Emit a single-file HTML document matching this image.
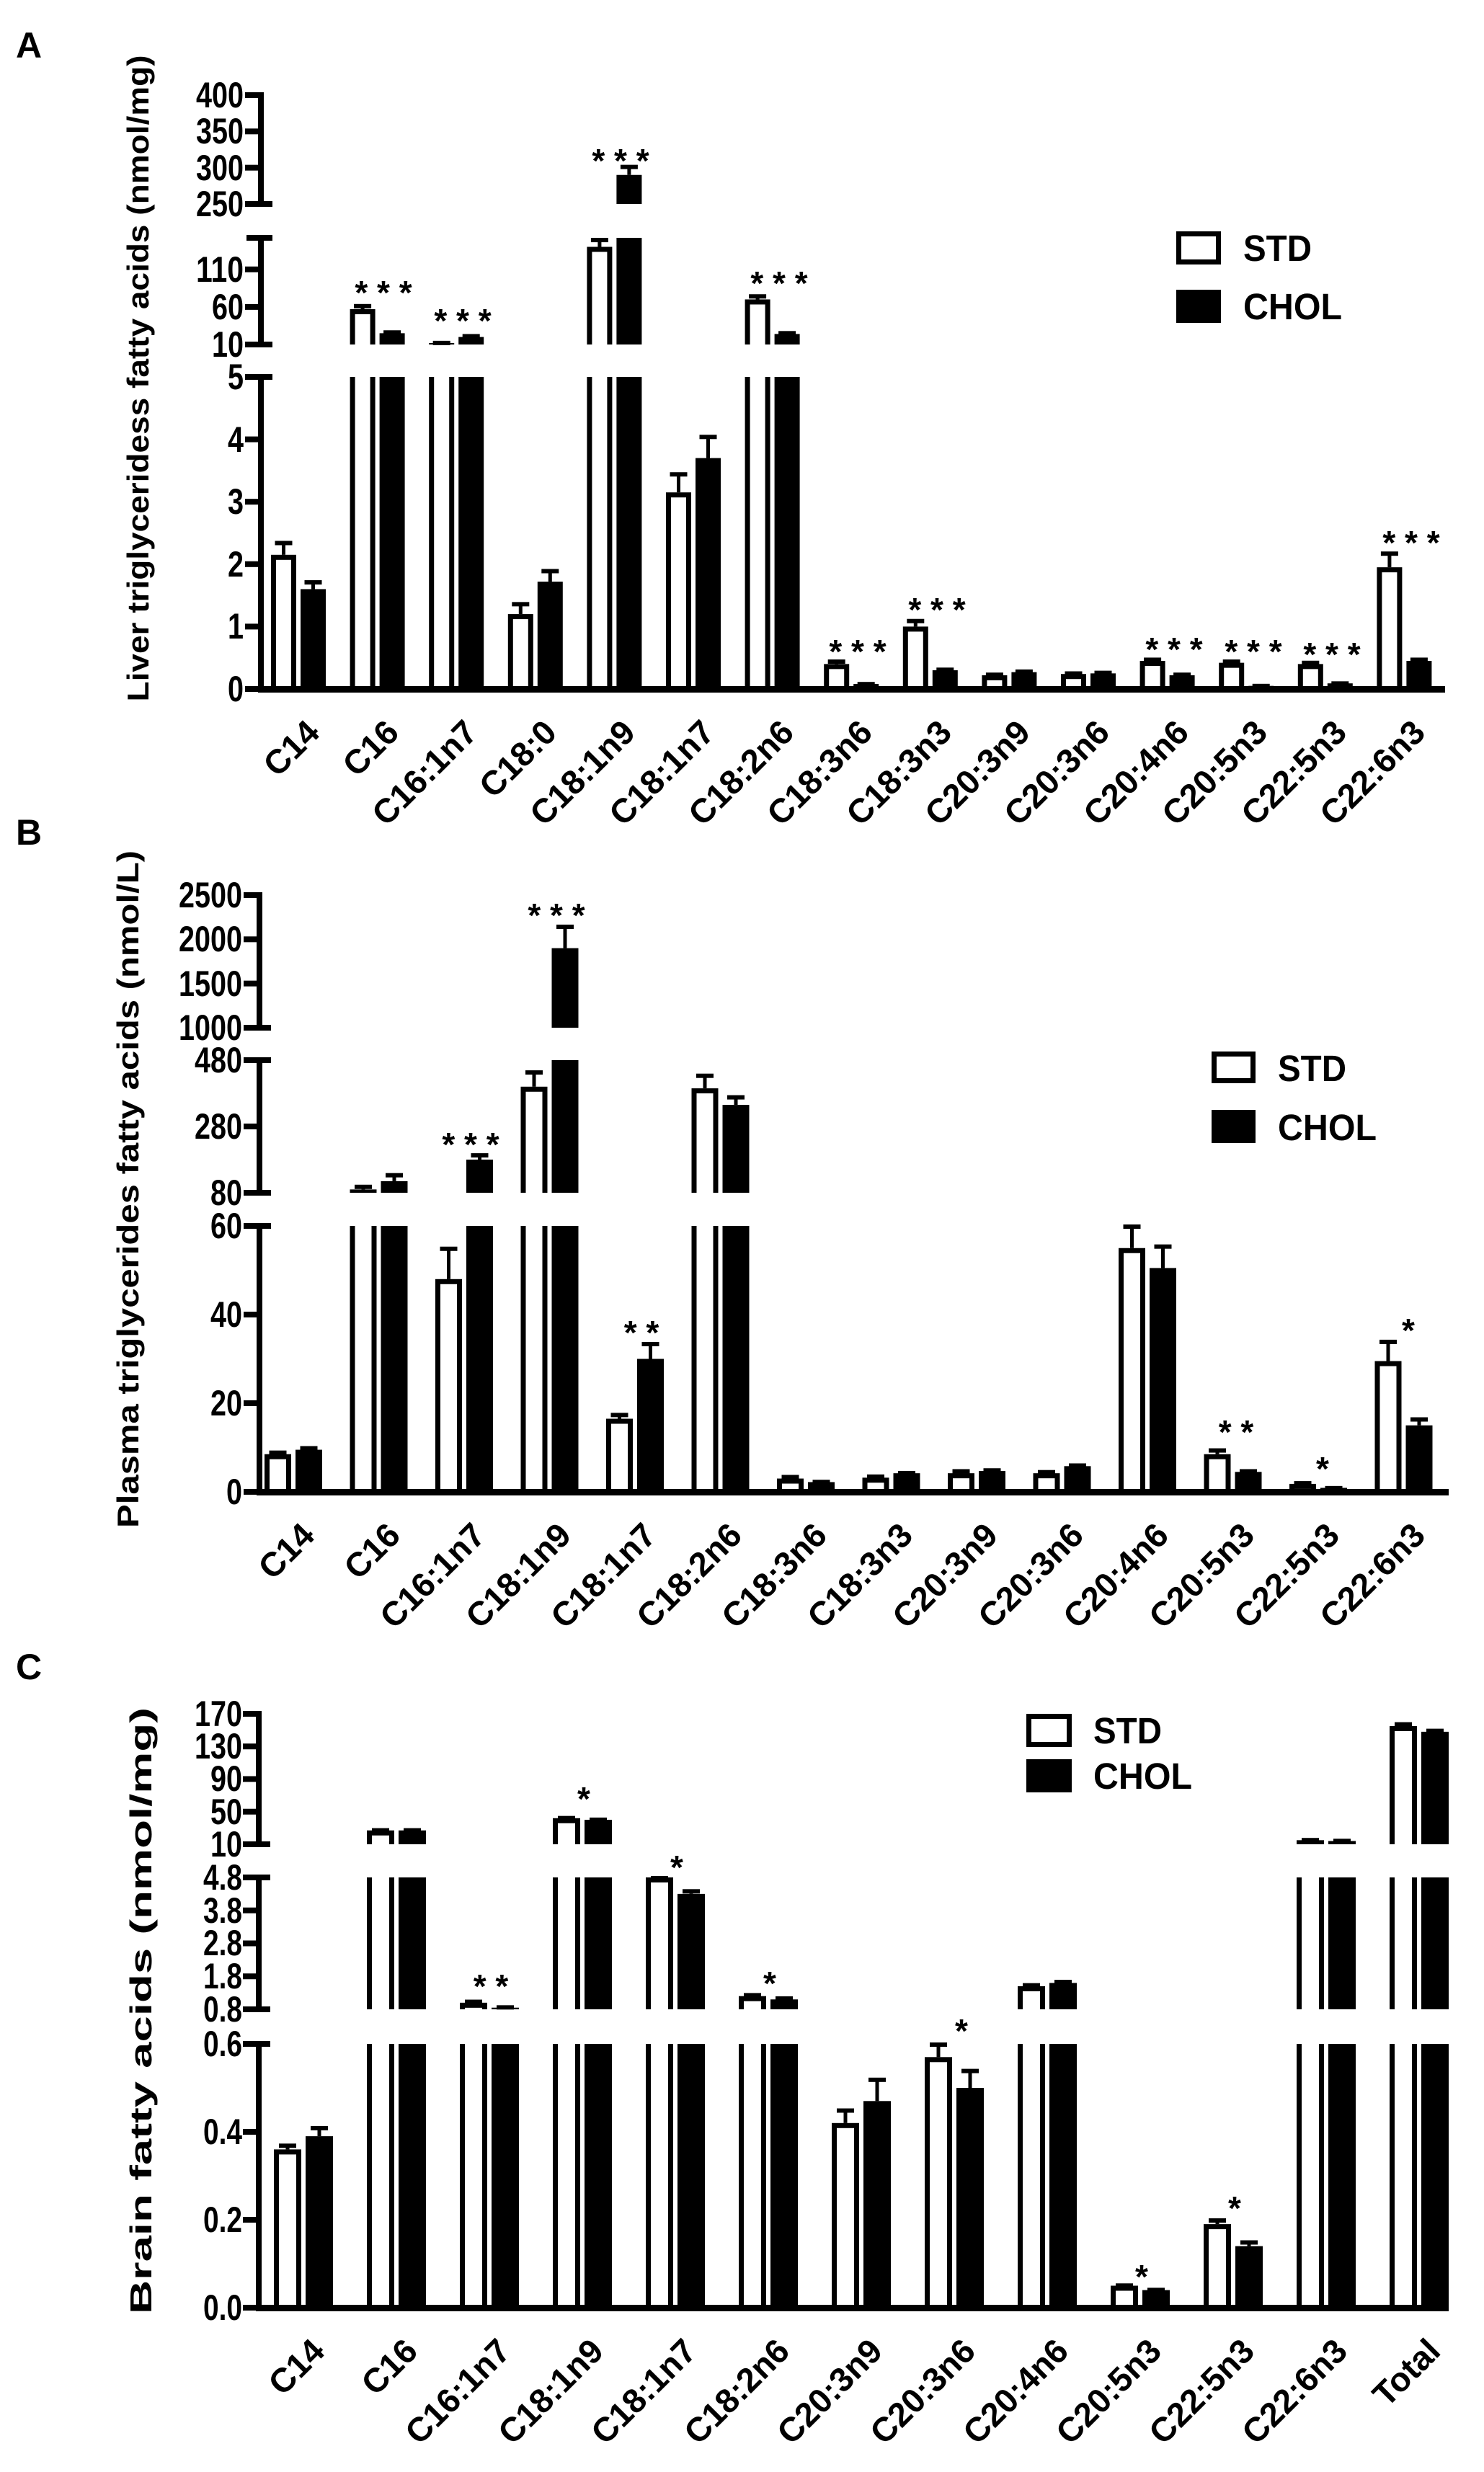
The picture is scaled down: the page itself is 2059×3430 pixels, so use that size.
<!DOCTYPE html>
<html><head><meta charset="utf-8"><style>
html,body{margin:0;padding:0;background:#fff;}
svg{display:block;}
text{font-family:"Liberation Sans",Arial,sans-serif;font-weight:bold;fill:#000;}
.tk{font-size:50px;text-anchor:end;}
.xl{font-size:47px;text-anchor:end;}
.st{font-size:46px;text-anchor:middle;}
.lg{font-size:51px;}
.yl{font-size:42px;text-anchor:middle;}
.pl{font-size:50px;}
</style></head><body>
<svg id="s" width="2059" height="3430" viewBox="0 0 2059 3430" xmlns="http://www.w3.org/2000/svg">
<rect width="2059" height="3430" fill="#fff"/>
<g id="g"></g>
<text class="pl" x="22" y="80">A</text>
<text class="pl" x="22" y="1172">B</text>
<text class="pl" x="22" y="2330">C</text>
<text class="yl" transform="translate(206,525) rotate(-90)" textLength="897" lengthAdjust="spacingAndGlyphs">Liver triglyceridess fatty acids (nmol/mg)</text>
<text class="yl" transform="translate(192,1650) rotate(-90)" textLength="940" lengthAdjust="spacingAndGlyphs">Plasma triglycerides fatty acids (nmol/L)</text>
<text class="yl" transform="translate(210,2790) rotate(-90)" textLength="842" lengthAdjust="spacingAndGlyphs">Brain fatty acids (nmol/mg)</text>
<text class="lg" x="1725" y="362" textLength="95" lengthAdjust="spacingAndGlyphs">STD</text>
<text class="lg" x="1725" y="443" textLength="137" lengthAdjust="spacingAndGlyphs">CHOL</text>
<text class="lg" x="1773" y="1500" textLength="95" lengthAdjust="spacingAndGlyphs">STD</text>
<text class="lg" x="1773" y="1582" textLength="137" lengthAdjust="spacingAndGlyphs">CHOL</text>
<text class="lg" x="1517" y="2419" textLength="95" lengthAdjust="spacingAndGlyphs">STD</text>
<text class="lg" x="1517" y="2482" textLength="137" lengthAdjust="spacingAndGlyphs">CHOL</text>
<text class="tk" x="338" y="973" textLength="22" lengthAdjust="spacingAndGlyphs">0</text>
<text class="tk" x="338" y="886" textLength="22" lengthAdjust="spacingAndGlyphs">1</text>
<text class="tk" x="338" y="800" textLength="22" lengthAdjust="spacingAndGlyphs">2</text>
<text class="tk" x="338" y="713" textLength="22" lengthAdjust="spacingAndGlyphs">3</text>
<text class="tk" x="338" y="627" textLength="22" lengthAdjust="spacingAndGlyphs">4</text>
<text class="tk" x="338" y="540" textLength="22" lengthAdjust="spacingAndGlyphs">5</text>
<text class="tk" x="338" y="495" textLength="44" lengthAdjust="spacingAndGlyphs">10</text>
<text class="tk" x="338" y="443" textLength="44" lengthAdjust="spacingAndGlyphs">60</text>
<text class="tk" x="338" y="391" textLength="66" lengthAdjust="spacingAndGlyphs">110</text>
<text class="tk" x="338" y="300" textLength="66" lengthAdjust="spacingAndGlyphs">250</text>
<text class="tk" x="338" y="250" textLength="66" lengthAdjust="spacingAndGlyphs">300</text>
<text class="tk" x="338" y="199" textLength="66" lengthAdjust="spacingAndGlyphs">350</text>
<text class="tk" x="338" y="149" textLength="66" lengthAdjust="spacingAndGlyphs">400</text>
<text class="tk" x="336" y="2087" textLength="22" lengthAdjust="spacingAndGlyphs">0</text>
<text class="tk" x="336" y="1964" textLength="44" lengthAdjust="spacingAndGlyphs">20</text>
<text class="tk" x="336" y="1841" textLength="44" lengthAdjust="spacingAndGlyphs">40</text>
<text class="tk" x="336" y="1718" textLength="44" lengthAdjust="spacingAndGlyphs">60</text>
<text class="tk" x="336" y="1672" textLength="44" lengthAdjust="spacingAndGlyphs">80</text>
<text class="tk" x="336" y="1580" textLength="66" lengthAdjust="spacingAndGlyphs">280</text>
<text class="tk" x="336" y="1488" textLength="66" lengthAdjust="spacingAndGlyphs">480</text>
<text class="tk" x="336" y="1443" textLength="88" lengthAdjust="spacingAndGlyphs">1000</text>
<text class="tk" x="336" y="1382" textLength="88" lengthAdjust="spacingAndGlyphs">1500</text>
<text class="tk" x="336" y="1320" textLength="88" lengthAdjust="spacingAndGlyphs">2000</text>
<text class="tk" x="336" y="1259" textLength="88" lengthAdjust="spacingAndGlyphs">2500</text>
<text class="tk" x="336" y="3219" textLength="54" lengthAdjust="spacingAndGlyphs">0.0</text>
<text class="tk" x="336" y="3097" textLength="54" lengthAdjust="spacingAndGlyphs">0.2</text>
<text class="tk" x="336" y="2975" textLength="54" lengthAdjust="spacingAndGlyphs">0.4</text>
<text class="tk" x="336" y="2853" textLength="54" lengthAdjust="spacingAndGlyphs">0.6</text>
<text class="tk" x="336" y="2805" textLength="54" lengthAdjust="spacingAndGlyphs">0.8</text>
<text class="tk" x="336" y="2759" textLength="54" lengthAdjust="spacingAndGlyphs">1.8</text>
<text class="tk" x="336" y="2713" textLength="54" lengthAdjust="spacingAndGlyphs">2.8</text>
<text class="tk" x="336" y="2668" textLength="54" lengthAdjust="spacingAndGlyphs">3.8</text>
<text class="tk" x="336" y="2622" textLength="54" lengthAdjust="spacingAndGlyphs">4.8</text>
<text class="tk" x="336" y="2576" textLength="44" lengthAdjust="spacingAndGlyphs">10</text>
<text class="tk" x="336" y="2531" textLength="44" lengthAdjust="spacingAndGlyphs">50</text>
<text class="tk" x="336" y="2485" textLength="44" lengthAdjust="spacingAndGlyphs">90</text>
<text class="tk" x="336" y="2440" textLength="66" lengthAdjust="spacingAndGlyphs">130</text>
<text class="tk" x="336" y="2395" textLength="66" lengthAdjust="spacingAndGlyphs">170</text>
<text class="xl" transform="translate(446,1019) rotate(-45)">C14</text>
<text class="xl" transform="translate(556,1019) rotate(-45)">C16</text>
<text class="xl" transform="translate(665,1019) rotate(-45)">C16:1n7</text>
<text class="xl" transform="translate(775,1019) rotate(-45)">C18:0</text>
<text class="xl" transform="translate(884,1019) rotate(-45)">C18:1n9</text>
<text class="xl" transform="translate(994,1019) rotate(-45)">C18:1n7</text>
<text class="xl" transform="translate(1104,1019) rotate(-45)">C18:2n6</text>
<text class="xl" transform="translate(1213,1019) rotate(-45)">C18:3n6</text>
<text class="xl" transform="translate(1323,1019) rotate(-45)">C18:3n3</text>
<text class="xl" transform="translate(1432,1019) rotate(-45)">C20:3n9</text>
<text class="xl" transform="translate(1542,1019) rotate(-45)">C20:3n6</text>
<text class="xl" transform="translate(1652,1019) rotate(-45)">C20:4n6</text>
<text class="xl" transform="translate(1761,1019) rotate(-45)">C20:5n3</text>
<text class="xl" transform="translate(1871,1019) rotate(-45)">C22:5n3</text>
<text class="xl" transform="translate(1980,1019) rotate(-45)">C22:6n3</text>
<text class="xl" transform="translate(439,2133) rotate(-45)">C14</text>
<text class="xl" transform="translate(558,2133) rotate(-45)">C16</text>
<text class="xl" transform="translate(676,2133) rotate(-45)">C16:1n7</text>
<text class="xl" transform="translate(795,2133) rotate(-45)">C18:1n9</text>
<text class="xl" transform="translate(913,2133) rotate(-45)">C18:1n7</text>
<text class="xl" transform="translate(1032,2133) rotate(-45)">C18:2n6</text>
<text class="xl" transform="translate(1150,2133) rotate(-45)">C18:3n6</text>
<text class="xl" transform="translate(1269,2133) rotate(-45)">C18:3n3</text>
<text class="xl" transform="translate(1387,2133) rotate(-45)">C20:3n9</text>
<text class="xl" transform="translate(1506,2133) rotate(-45)">C20:3n6</text>
<text class="xl" transform="translate(1624,2133) rotate(-45)">C20:4n6</text>
<text class="xl" transform="translate(1743,2133) rotate(-45)">C20:5n3</text>
<text class="xl" transform="translate(1861,2133) rotate(-45)">C22:5n3</text>
<text class="xl" transform="translate(1980,2133) rotate(-45)">C22:6n3</text>
<text class="xl" transform="translate(453,3265) rotate(-45)">C14</text>
<text class="xl" transform="translate(582,3265) rotate(-45)">C16</text>
<text class="xl" transform="translate(711,3265) rotate(-45)">C16:1n7</text>
<text class="xl" transform="translate(840,3265) rotate(-45)">C18:1n9</text>
<text class="xl" transform="translate(969,3265) rotate(-45)">C18:1n7</text>
<text class="xl" transform="translate(1098,3265) rotate(-45)">C18:2n6</text>
<text class="xl" transform="translate(1227,3265) rotate(-45)">C20:3n9</text>
<text class="xl" transform="translate(1356,3265) rotate(-45)">C20:3n6</text>
<text class="xl" transform="translate(1485,3265) rotate(-45)">C20:4n6</text>
<text class="xl" transform="translate(1614,3265) rotate(-45)">C20:5n3</text>
<text class="xl" transform="translate(1743,3265) rotate(-45)">C22:5n3</text>
<text class="xl" transform="translate(1872,3265) rotate(-45)">C22:6n3</text>
<text class="xl" transform="translate(2001,3265) rotate(-45)">Total</text>
<text class="st" x="532" y="422">* * *</text>
<text class="st" x="642" y="461">* * *</text>
<text class="st" x="861" y="239">* * *</text>
<text class="st" x="1081" y="409">* * *</text>
<text class="st" x="1190" y="920">* * *</text>
<text class="st" x="1300" y="862">* * *</text>
<text class="st" x="1629" y="917">* * *</text>
<text class="st" x="1739" y="920">* * *</text>
<text class="st" x="1848" y="924">* * *</text>
<text class="st" x="1958" y="769">* * *</text>
<text class="st" x="653" y="1604">* * *</text>
<text class="st" x="772" y="1286">* * *</text>
<text class="st" x="890" y="1865">* *</text>
<text class="st" x="1715" y="2003">* *</text>
<text class="st" x="1835" y="2054">*</text>
<text class="st" x="1954" y="1862">*</text>
<text class="st" x="681" y="2772">* *</text>
<text class="st" x="810" y="2512">*</text>
<text class="st" x="939" y="2607">*</text>
<text class="st" x="1068" y="2768">*</text>
<text class="st" x="1334" y="2834">*</text>
<text class="st" x="1584" y="3175">*</text>
<text class="st" x="1713" y="3080">*</text>
</svg>
<script>
(function(){
var NS="http://www.w3.org/2000/svg",g=document.getElementById("g");
function el(t,a){var e=document.createElementNS(NS,t);for(var k in a)e.setAttribute(k,a[k]);g.appendChild(e);return e;}
function R(x,y,w,h,f){el("rect",{x:x,y:y,width:w,height:h,fill:f});}
function panel(P){
  var segs=P.segs;
  function ymap(s,v){return s.y0+(v-s.v0)*(s.y1-s.y0)/(s.v1-s.v0);}
  function segOf(v){for(var i=segs.length-1;i>=0;i--){if(v>=segs[i].v0)return i;}return 0;}
  for(var i=0;i<P.d.length;i++){
    var c=P.c0+P.p*i,d=P.d[i];
    for(var b=0;b<2;b++){
      var v=d[b*2],e=d[b*2+1],x=b==0?c-P.bw-3:c+3,w=P.bw;
      var top=segOf(v);
      for(var k=0;k<=top;k++){
        var s=segs[k],ytop=k<top?s.y1:ymap(s,v),ybot=s.y0;
        R(x,ytop,w,ybot-ytop,"#000");
        if(b==0){
          var inset=7,it=k<top?ytop:ytop+inset;
          if(ybot-it>0&&w-2*inset>0)R(x+inset,it,w-2*inset,ybot-it,"#fff");
        }
      }
      var s=segs[top],ye=ymap(s,Math.min(e,s.v1)),yv=ymap(s,v);
      if(yv-ye>1){R(c+(b==0?-P.bw/2-3:P.bw/2+3)-2.5,ye,5,yv-ye,"#000");}
      R(c+(b==0?-P.bw/2-3:P.bw/2+3)-12,ye-2,24,6,"#000");
    }
  }
  for(var k=0;k<segs.length;k++){
    var s=segs[k];
    R(P.ax-4,s.y1-4,8,s.y0-s.y1+8,"#000");
    R(P.ax-20,s.y0-4,(k==0?0:36),8,"#000");
    R(P.ax-20,s.y1-4,(k==segs.length-1?20:36),8,"#000");
    for(var t=0;t<s.t.length;t++){var yy=ymap(s,s.t[t]);R(P.ax-22,yy-4,22,8,"#000");}
  }
  R(P.ax-4,segs[0].y0-4,P.ae-P.ax+4,9,"#000");
  var L=P.L;R(L[0],L[1],L[2],L[3],"#000");R(L[0]+7,L[1]+7,L[2]-14,L[3]-14,"#fff");
  R(L[0],L[4],L[2],L[5],"#000");
}
panel({c0:414,p:109.6,bw:35,ax:362,ae:2005,L:[1632,321,62,46,402,46],
 segs:[{v0:0,v1:5,y0:956,y1:523,t:[0,1,2,3,4,5]},{v0:10,v1:152,y0:478,y1:330,t:[10,60,110]},{v0:250,v1:400,y0:283,y1:132,t:[250,300,350,400]}],
 d:[[2.15,2.35,1.6,1.72],[57,62,25,27],[12,13,20,22],[1.2,1.37,1.72,1.9],[140,150,290,302],[3.15,3.45,3.7,4.05],[70,75,24,26],[0.4,0.45,0.08,0.09],[1.0,1.1,0.3,0.32],[0.22,0.24,0.27,0.29],[0.24,0.26,0.25,0.27],[0.45,0.48,0.22,0.24],[0.42,0.45,0.05,0.06],[0.4,0.43,0.09,0.1],[1.95,2.18,0.45,0.48]]});
panel({c0:407,p:118.5,bw:37,ax:360,ae:2010,L:[1681,1459,61,44,1540,46],
 segs:[{v0:0,v1:60,y0:2070,y1:1701,t:[0,20,40,60]},{v0:80,v1:480,y0:1655,y1:1471,t:[80,280,480]},{v0:1000,v1:2500,y0:1426,y1:1242,t:[1000,1500,2000,2500]}],
 d:[[8.5,9,9.5,10],[90,100,115,135],[48,55,180,195],[400,445,1900,2150],[16.5,17.5,30,33.5],[395,435,345,370],[3,3.5,2.2,2.4],[3.2,3.6,4.2,4.4],[4.2,4.8,4.7,5],[4.2,4.6,5.8,6.1],[55,60,50.5,55.5],[8.5,9.5,4.5,4.8],[1.8,2.1,0.9,1],[29.5,34,15,16.5]]});
panel({c0:421,p:129,bw:38,ax:359,ae:2010,L:[1424,2378,63,46,2441,46],
 segs:[{v0:0,v1:0.6,y0:3202,y1:2836,t:[0,0.2,0.4,0.6]},{v0:0.8,v1:4.8,y0:2788,y1:2605,t:[0.8,1.8,2.8,3.8,4.8]},{v0:10,v1:170,y0:2559,y1:2378,t:[10,50,90,130,170]}],
 d:[[0.36,0.37,0.39,0.41],[27,28,27,28],[1.0,1.05,0.85,0.88],[42,43,40,41],[4.8,4.82,4.3,4.4],[1.2,1.25,1.1,1.15],[0.42,0.45,0.47,0.52],[0.57,0.6,0.5,0.54],[1.5,1.55,1.6,1.65],[0.05,0.052,0.04,0.042],[0.19,0.2,0.14,0.15],[15,16,14,15],[155,158,148,150]]});
})();
</script>
</body></html>
